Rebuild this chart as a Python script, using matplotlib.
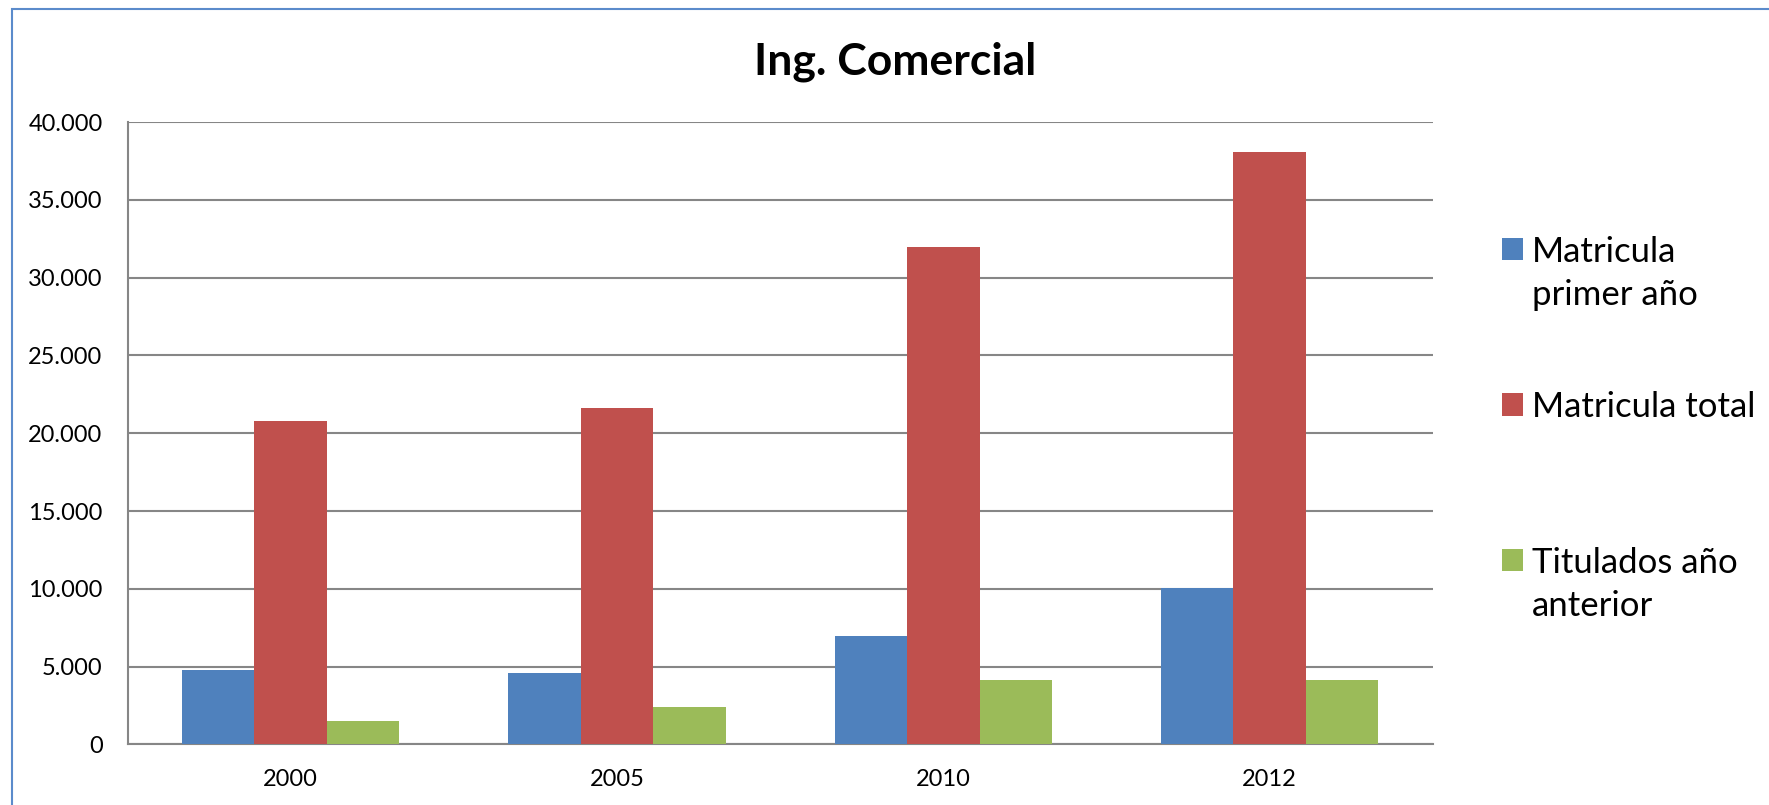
import matplotlib
matplotlib.use("Agg")
import matplotlib.pyplot as plt
import numpy as np
from matplotlib.patches import Rectangle
from matplotlib.legend_handler import HandlerPatch
from matplotlib.ticker import FuncFormatter

plt.rcParams['font.family'] = ['Lato', 'DejaVu Sans']

# datos
years = ["2000", "2005", "2010", "2012"]
primer_anio = [4800, 4600, 7000, 10050]
matricula_total = [20800, 21650, 31950, 38100]
titulados = [1530, 2390, 4120, 4120]

labels = ["Matricula\nprimer año", "Matricula total\n", "Titulados año\nanterior"]
colores = ["#4F81BD", "#C0504D", "#9BBB59"]
interlineado = 1.45


# cuadro de leyenda alineado con la primera linea del texto
class HandlerArriba(HandlerPatch):
    def create_artists(self, legend, orig_handle, xdescent, ydescent,
                       width, height, fontsize, trans):
        p = Rectangle((-xdescent, -ydescent + interlineado / 2 * fontsize), width, height)
        self.update_prop(p, orig_handle, legend)
        p.set_transform(trans)
        return [p]


fig = plt.figure(figsize=(17.69, 8.05), dpi=100)
ax = fig.add_axes([0.0721, 0.0752, 0.7379, 0.7732])

x = np.arange(len(years))
w = 0.222
series = [primer_anio, matricula_total, titulados]
handles = []
for i, s in enumerate(series):
    b = ax.bar(x + (i - 1) * w, s, w, color=colores[i], label=labels[i], zorder=3)
    handles.append(b.patches[0])

ax.set_xlim(-0.5, 3.5)
ax.set_ylim(0, 40000)
ax.set_yticks(np.arange(0, 40001, 5000))
ax.yaxis.set_major_formatter(FuncFormatter(lambda v, p: f"{int(v):,}".replace(",", ".")))
ax.set_xticks(x)
ax.set_xticklabels(years)
ax.tick_params(axis="both", length=0, labelsize=17, colors="black")
ax.tick_params(axis="y", pad=18)
ax.tick_params(axis="x", pad=18)

ax.grid(axis="y", color="#868686", linewidth=1.5, zorder=0)
for lado in ["top", "right"]:
    ax.spines[lado].set_visible(False)
for lado in ["left", "bottom"]:
    ax.spines[lado].set_color("#868686")
    ax.spines[lado].set_linewidth(1.5)

fig.text(0.506, 0.923, "Ing. Comercial", ha="center", va="center",
         fontsize=32, fontweight="bold")

leg = ax.legend(handles, labels, handler_map={Rectangle: HandlerArriba()},
                loc="upper left", bbox_to_anchor=(0.8395, 0.729),
                bbox_transform=fig.transFigure, frameon=False,
                fontsize=25, handlelength=0.6, handleheight=0.6,
                handletextpad=0.25, labelspacing=2.3, borderpad=0)
for t in leg.get_texts():
    t.set_linespacing(interlineado)

# borde del grafico
fig.add_artist(Rectangle((12 / 1769, -0.5), 2, 1.5 - 9 / 805,
                         transform=fig.transFigure, fill=False,
                         edgecolor="#5B8BCB", linewidth=1.5))

fig.savefig("out.png", dpi=100)
